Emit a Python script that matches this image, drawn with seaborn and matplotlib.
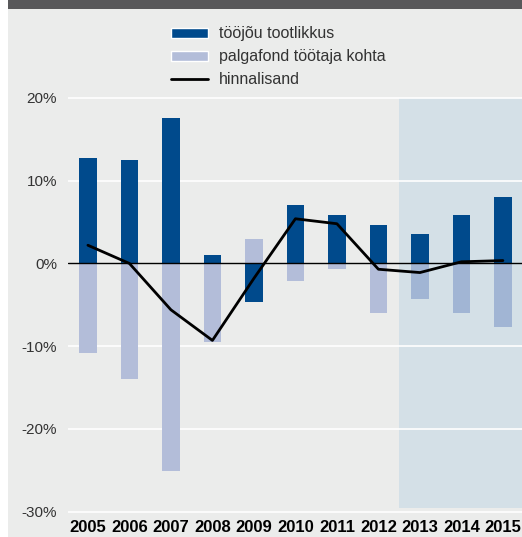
import matplotlib
matplotlib.use("Agg")
import matplotlib.pyplot as plt
from matplotlib.patches import Rectangle
from matplotlib.lines import Line2D
import seaborn as sns
import pandas as pd

years = ["2005", "2006", "2007", "2008", "2009", "2010", "2011", "2012", "2013", "2014", "2015"]
tootlikkus = [12.8, 12.45, 17.6, 1.0, -4.7, 7.1, 5.8, 4.7, 3.6, 5.8, 8.0]
palgafond = [-10.8, -13.95, -25.1, -9.5, 3.0, -2.1, -0.7, -6.0, -4.35, -6.0, -7.7]
hinnalisand = [2.2, 0.0, -5.6, -9.3, -1.8, 5.4, 4.8, -0.7, -1.1, 0.2, 0.35]
forecast_years = ["2013", "2014", "2015"]

dark_blue = "#004a8c"
light_blue = "#b3bdd9"
light_blue_fc = "#a1b5d4"
bg = "#ebeceb"
shade = "#d4e0e7"

sns.set_style("white")
plt.rcParams["font.family"] = ["Liberation Sans", "DejaVu Sans"]

df = pd.DataFrame({"aasta": years, "tootlikkus": tootlikkus,
                   "palgafond": palgafond, "hinnalisand": hinnalisand})

fig = plt.figure(figsize=(5.22, 5.37), dpi=100, facecolor="white")
W, H = 522, 537
# background panel + dark top band
fig.patches.append(Rectangle((8 / W, 0), 1 - 8 / W, 1, transform=fig.transFigure,
                             facecolor=bg, edgecolor="none", zorder=-10))
fig.patches.append(Rectangle((8 / W, 1 - 9 / H), 1 - 8 / W, 9 / H, transform=fig.transFigure,
                             facecolor="#58585a", edgecolor="none", zorder=-9))

ax = fig.add_axes([68 / W, 0.0425, 1 - 68 / W, 0.8222 - 0.0425])
ax.set_facecolor("none")

# forecast shading
ax.add_patch(Rectangle((7.5, -29.6), 5, 49.6, facecolor=shade, edgecolor="none", zorder=0))

for v in [20, 10, -10, -20, -30]:
    ax.axhline(v, color="white", lw=1.2, zorder=0.5)

pal_colors = [light_blue_fc if y in forecast_years else light_blue for y in years]
sns.barplot(data=df, x="aasta", y="palgafond", hue="aasta", palette=pal_colors,
            legend=False, width=0.42, saturation=1, linewidth=0, ax=ax, zorder=2)
sns.barplot(data=df, x="aasta", y="tootlikkus", color=dark_blue,
            width=0.42, saturation=1, linewidth=0, ax=ax, zorder=2)
ax.axhline(0, color="black", lw=1.0, zorder=3)
sns.lineplot(data=df, x="aasta", y="hinnalisand", color="black", lw=2.0,
             ax=ax, zorder=4, sort=False)

ax.set_xlim(-0.48, 10.46)
ax.set_ylim(-30.3, 20.3)
ax.set_yticks([20, 10, 0, -10, -20, -30])
ax.set_yticklabels(["20%", "10%", "0%", "-10%", "-20%", "-30%"])
ax.tick_params(axis="y", length=0, pad=8, labelsize=11, labelcolor="#333333")
ax.tick_params(axis="x", length=0, pad=4, labelsize=12)
for lbl in ax.get_xticklabels():
    lbl.set_fontweight("bold")
    lbl.set_color("black")
ax.set_xlabel("")
ax.set_ylabel("")
for s in ax.spines.values():
    s.set_visible(False)

handles = [Rectangle((0, 0), 1, 1, facecolor=dark_blue),
           Rectangle((0, 0), 1, 1, facecolor=light_blue),
           Line2D([0], [0], color="black", lw=2)]
labels = ["tööjõu tootlikkus", "palgafond töötaja kohta", "hinnalisand"]
fig.legend(handles, labels, loc="upper left", bbox_to_anchor=(157 / W, 1 - 12 / H),
           frameon=False, fontsize=11.5, labelcolor="#333333",
           handlelength=2.3, handleheight=0.6, handletextpad=0.7, labelspacing=0.5)

fig.savefig("out.png", dpi=100, facecolor="white")
